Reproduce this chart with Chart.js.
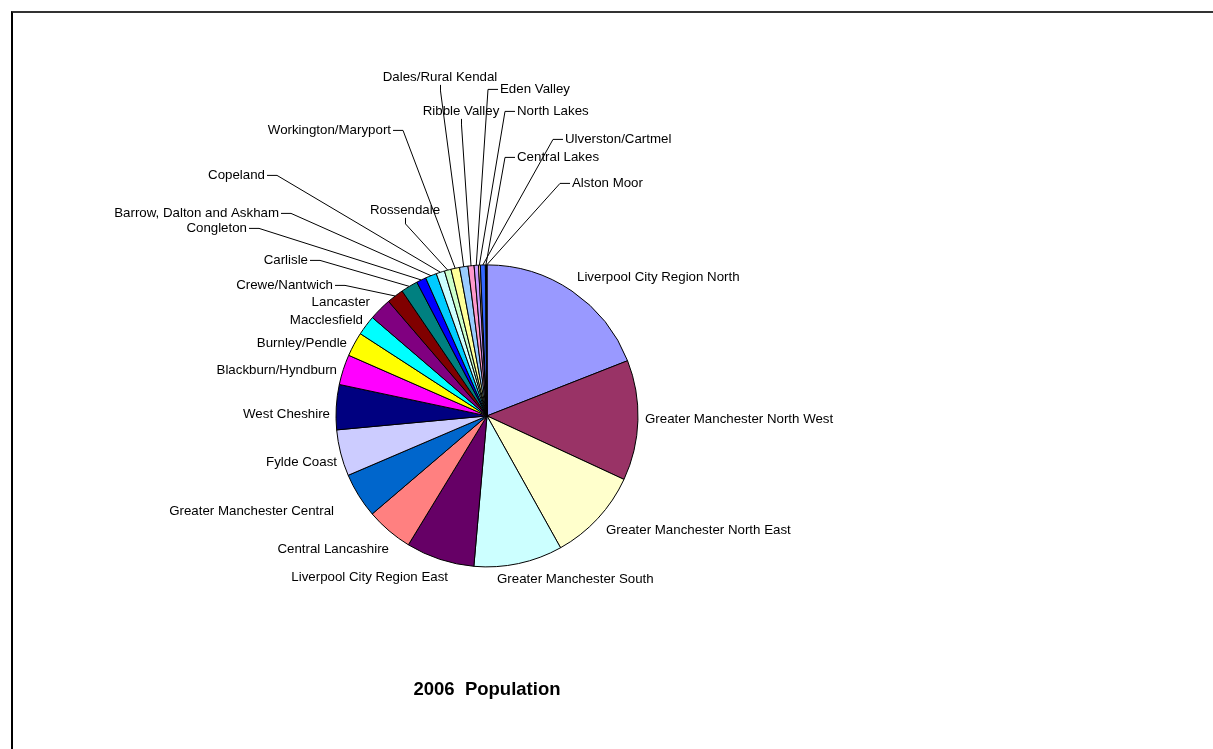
<!DOCTYPE html>
<html>
<head>
<meta charset="utf-8">
<script src="https://cdn.jsdelivr.net/npm/chart.js@4.4.1/dist/chart.umd.min.js"></script>
<style>
    body { margin: 0; background: #fff; overflow: hidden; }
    #wrap { position: relative; width: 1213px; height: 749px; }
    #frame {
        position: absolute; left: 11px; top: 11px; width: 1300px; height: 800px;
        border-left: 2px solid #000; border-top: 2px solid #333; box-sizing: border-box;
    }
    canvas { position: absolute; left: 0; top: 0; }
</style>
</head>
<body>
<div id="wrap">
    <div id="frame"></div>
    <canvas id="popChart" width="1213" height="749"></canvas>
</div>
<script>
// 2006 population by area (thousands)
const regions = [
    "Liverpool City Region North", "Greater Manchester North West", "Greater Manchester North East",
    "Greater Manchester South", "Liverpool City Region East", "Central Lancashire",
    "Greater Manchester Central", "Fylde Coast", "West Cheshire", "Blackburn/Hyndburn",
    "Burnley/Pendle", "Macclesfield", "Lancaster", "Crewe/Nantwich", "Carlisle", "Congleton",
    "Barrow, Dalton and Askham", "Copeland", "Rossendale", "Workington/Maryport",
    "Dales/Rural Kendal", "Ribble Valley", "Eden Valley", "North Lakes", "Ulverston/Cartmel",
    "Central Lakes", "Alston Moor",
];
const population = [
    1325, 895, 695, 660, 510, 350, 335, 345, 335, 225,
    180, 148, 168, 125, 126, 72, 84, 63, 49, 64,
    63, 45, 32, 14, 37, 8, 4,
];
const chartTitle = "2006  Population";

// excel-ish default fill palette
const sliceColours = [
    "#9999FF", "#993366", "#FFFFCC", "#CCFFFF", "#660066", "#FF8080", "#0066CC", "#CCCCFF",
    "#000080", "#FF00FF", "#FFFF00", "#00FFFF", "#800080", "#800000", "#008080", "#0000FF",
    "#00CCFF", "#CCFFFF", "#CCFFCC", "#FFFF99", "#99CCFF", "#FF99CC", "#CC99FF", "#FFCC99",
    "#3366FF", "#33CCCC", "#99CC00",
];

// label spot relative to pie centre: [dx, dy, align, leader line?]
const labelSpots = [
    [90, -139, "left", false], [158, 3, "left", false], [119, 114, "left", false],
    [10, 163, "left", false], [-39, 161, "right", false], [-98, 133, "right", false],
    [-153, 95, "right", false], [-150, 46, "right", false], [-157, -2, "right", false],
    [-150, -46, "right", false], [-140, -73, "right", false], [-124, -96, "right", false],
    [-117, -114, "right", false], [-154, -131, "right", true], [-179, -156, "right", true],
    [-240, -188, "right", true], [-208, -203, "right", true], [-222, -241, "right", true],
    [-82, -206, "center", true], [-96, -286, "right", true], [-47, -339, "center", true],
    [-26, -305, "center", true], [13, -327, "left", true], [30, -305, "left", true],
    [78, -277, "left", true], [30, -259, "left", true], [85, -233, "left", true],
];

const FONT = '"Liberation Sans", Arial, sans-serif';

const leaderLabels = {
    id: "leaderLabels",
    afterDatasetsDraw(chart) {
        const ctx = chart.ctx;
        const arcs = chart.getDatasetMeta(0).data;
        ctx.save();
        ctx.font = `13.3px ${FONT}`;
        ctx.fillStyle = "#000";
        ctx.strokeStyle = "#000";
        ctx.lineWidth = 1;
        ctx.textBaseline = "middle";
        arcs.forEach((arc, i) => {
            const p = arc.getProps(["x", "y", "startAngle", "endAngle", "outerRadius"], true);
            const mid = (p.startAngle + p.endAngle) / 2;
            const ex = p.x + Math.cos(mid) * p.outerRadius;
            const ey = p.y + Math.sin(mid) * p.outerRadius;
            const [dx, dy, align, leader] = labelSpots[i];
            const tx = p.x + dx;
            const ty = p.y + dy;
            ctx.textAlign = align;
            ctx.fillText(chart.data.labels[i], tx, ty);
            if (!leader) return;
            ctx.beginPath();
            if (align === "right") {
                ctx.moveTo(tx + 2, ty + 0.5);
                ctx.lineTo(tx + 12, ty + 0.5);
            } else if (align === "left") {
                ctx.moveTo(tx - 2, ty + 0.5);
                ctx.lineTo(tx - 12, ty + 0.5);
            } else {
                ctx.moveTo(tx + 0.5, ty + 8);
                ctx.lineTo(tx + 0.5, ty + 14);
            }
            ctx.lineTo(ex, ey);
            ctx.stroke();
        });
        ctx.restore();
    },
};

new Chart(document.getElementById("popChart"), {
    type: "pie",
    data: {
        labels: regions,
        datasets: [
            {
                data: population,
                backgroundColor: sliceColours,
                borderColor: "#000",
                borderWidth: 1,
            },
        ],
    },
    plugins: [leaderLabels],
    options: {
        responsive: false,
        animation: false,
        events: [],
        radius: 151,
        layout: {
            padding: { top: 265, left: 336, right: 575, bottom: 48 },
        },
        plugins: {
            legend: { display: false },
            tooltip: { enabled: false },
            title: {
                display: true,
                position: "bottom",
                text: chartTitle,
                color: "#000",
                font: { family: FONT, size: 18.5, weight: "bold", lineHeight: 1.2 },
                padding: { top: 112, bottom: 0 },
            },
        },
    },
});
</script>
</body>
</html>
